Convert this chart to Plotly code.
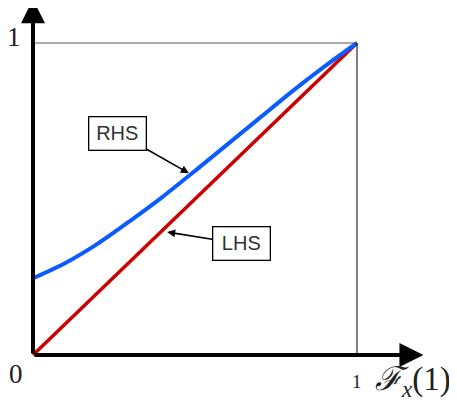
import plotly.graph_objects as go

# blue curve (RHS)
rhs_x = [0.0, 0.1, 0.2, 0.3, 0.4, 0.5, 0.6, 0.7, 0.8, 0.9, 1.0]
rhs_y = [0.246, 0.295, 0.357, 0.43, 0.507, 0.59, 0.675, 0.76, 0.845, 0.925, 1.0]

# red line (LHS)
lhs_x = [0.0, 1.0]
lhs_y = [0.0, 1.0]

fig = go.Figure()

fig.add_trace(go.Scatter(x=lhs_x, y=lhs_y, mode="lines",
                         line=dict(color="#cc0000", width=3.5),
                         showlegend=False, hoverinfo="skip"))
fig.add_trace(go.Scatter(x=rhs_x, y=rhs_y, mode="lines",
                         line=dict(color="#0a5cff", width=4, shape="spline",
                                   smoothing=0.8),
                         showlegend=False, hoverinfo="skip"))

# thin box lines at 1
fig.add_shape(type="line", x0=0, y0=1, x1=1, y1=1,
              line=dict(color="#555555", width=1))
fig.add_shape(type="line", x0=1, y0=0, x1=1, y1=1,
              line=dict(color="black", width=1))

# axes as thick arrows
for tip in [(1.205, 0), (0, 1.14)]:
    fig.add_annotation(x=tip[0], y=tip[1], ax=0, ay=0, axref="x", ayref="y",
                       xref="x", yref="y", text="", showarrow=True,
                       arrowhead=2, arrowsize=1.2, arrowwidth=4,
                       arrowcolor="black")

serif = "Liberation Serif"
fig.add_annotation(x=-0.06, y=1.02, xref="x", yref="y", text="1",
                   showarrow=False, font=dict(family=serif, size=27, color="#222"))
fig.add_annotation(x=-0.053, y=-0.06, xref="x", yref="y", text="0",
                   showarrow=False, font=dict(family=serif, size=27, color="#222"))
fig.add_annotation(x=1.0, y=-0.085, xref="x", yref="y", text="1",
                   showarrow=False, font=dict(family=serif, size=19, color="#222"))
fig.add_annotation(x=1.05, y=-0.085, xref="x", yref="y", xanchor="left",
                   text="<i>ℱ</i><sub><i>x</i></sub>(1)",
                   showarrow=False, font=dict(family=serif, size=33, color="#222"))

# labels with arrows
box = dict(showarrow=True, arrowhead=2, arrowsize=1, arrowwidth=1.6,
           arrowcolor="black", xref="x", yref="y", axref="x", ayref="y",
           bordercolor="black", borderwidth=1.3, borderpad=4,
           bgcolor="white", width=48, height=24,
           font=dict(family="Liberation Sans", size=20, color="#333"))
fig.add_annotation(x=0.481, y=0.583, ax=0.262, ay=0.7115, text="RHS", **box)
fig.add_annotation(x=0.414, y=0.394, ax=0.642, ay=0.356, text="LHS", **box)

# page body has an 8px margin, so the figure is shifted to compensate
fig.update_xaxes(range=[-25 / 324, 424 / 324], visible=False)
fig.update_yaxes(range=[-48 / 312, 347 / 312], visible=False)
fig.update_layout(width=449, height=395,
                  margin=dict(l=0, r=0, t=0, b=0),
                  plot_bgcolor="white", paper_bgcolor="white")

fig.write_html("out.html")
